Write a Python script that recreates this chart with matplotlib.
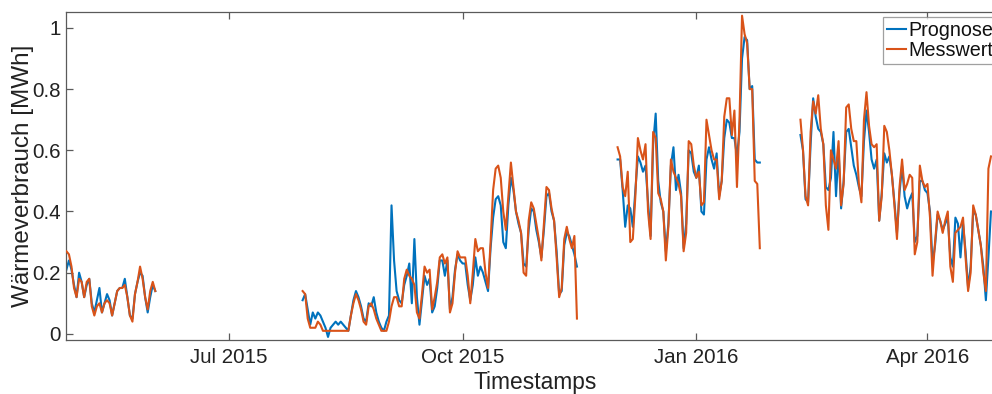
import numpy as np
import pandas as pd
import matplotlib
matplotlib.use("Agg")
import matplotlib.pyplot as plt
import matplotlib.dates as mdates

plt.rcParams['font.family'] = ['Liberation Sans', 'DejaVu Sans']

# ---- data (daily values, MWh) ----
seg1_start = "2015-04-28"
seg1_mess = [0.27, 0.26, 0.22, 0.15, 0.12, 0.18, 0.17, 0.12, 0.17, 0.18, 0.09, 0.06,
             0.09, 0.10, 0.07, 0.10, 0.11, 0.10, 0.06, 0.10, 0.14, 0.15, 0.15, 0.16,
             0.12, 0.06, 0.04, 0.13, 0.17, 0.22, 0.18, 0.12, 0.08, 0.14, 0.17, 0.14]
seg1_prog = [0.21, 0.24, 0.21, 0.16, 0.12, 0.20, 0.17, 0.12, 0.16, 0.18, 0.10, 0.07,
             0.11, 0.15, 0.07, 0.10, 0.13, 0.11, 0.06, 0.10, 0.14, 0.15, 0.15, 0.18,
             0.12, 0.06, 0.05, 0.13, 0.17, 0.20, 0.19, 0.12, 0.07, 0.12, 0.16, 0.14]

seg2_start = "2015-07-30"
seg2_mess = [0.14, 0.13, 0.05, 0.02, 0.02, 0.02, 0.04, 0.03, 0.01, 0.01, 0.01, 0.01,
             0.01, 0.01, 0.01, 0.01, 0.01, 0.01, 0.01, 0.06, 0.10, 0.13, 0.11, 0.08,
             0.04, 0.03, 0.09, 0.10, 0.08, 0.05, 0.03, 0.01, 0.01, 0.01, 0.04, 0.09,
             0.12, 0.12, 0.09, 0.09, 0.18, 0.21, 0.19, 0.18, 0.16, 0.07, 0.05, 0.13,
             0.22, 0.20, 0.21, 0.08, 0.12, 0.17, 0.25, 0.26, 0.23, 0.25, 0.07, 0.10,
             0.20, 0.27, 0.25, 0.25, 0.25, 0.19, 0.10, 0.20, 0.31, 0.27, 0.28, 0.28,
             0.20, 0.15, 0.30, 0.47, 0.54, 0.55, 0.51, 0.40, 0.34, 0.45, 0.56, 0.48,
             0.40, 0.37, 0.33, 0.20, 0.19, 0.37, 0.43, 0.41, 0.36, 0.31, 0.24, 0.36,
             0.48, 0.47, 0.41, 0.37, 0.25, 0.12, 0.15, 0.31, 0.35, 0.31, 0.28, 0.32,
             0.05]
seg2_prog = [0.11, 0.13, 0.08, 0.03, 0.07, 0.05, 0.07, 0.06, 0.04, 0.02, -0.01, 0.02,
             0.03, 0.04, 0.03, 0.04, 0.03, 0.02, 0.01, 0.06, 0.11, 0.14, 0.12, 0.09,
             0.05, 0.04, 0.10, 0.09, 0.12, 0.07, 0.04, 0.02, 0.01, 0.04, 0.06, 0.42,
             0.24, 0.14, 0.11, 0.10, 0.16, 0.19, 0.23, 0.10, 0.31, 0.12, 0.03, 0.11,
             0.19, 0.16, 0.18, 0.07, 0.09, 0.15, 0.24, 0.24, 0.19, 0.24, 0.08, 0.12,
             0.21, 0.26, 0.24, 0.23, 0.23, 0.16, 0.11, 0.16, 0.25, 0.19, 0.22, 0.20,
             0.17, 0.14, 0.28, 0.38, 0.44, 0.45, 0.42, 0.30, 0.28, 0.42, 0.51, 0.47,
             0.40, 0.36, 0.33, 0.23, 0.22, 0.34, 0.41, 0.40, 0.34, 0.30, 0.25, 0.34,
             0.45, 0.46, 0.40, 0.37, 0.27, 0.13, 0.14, 0.29, 0.33, 0.32, 0.29, 0.26,
             0.22]

seg3_start = "2015-12-01"
seg3_mess = [0.61, 0.58, 0.48, 0.45, 0.53, 0.30, 0.31, 0.45, 0.64, 0.60, 0.57, 0.62,
             0.40, 0.31, 0.66, 0.64, 0.46, 0.44, 0.40, 0.24, 0.35, 0.57, 0.53, 0.51,
             0.49, 0.45, 0.27, 0.33, 0.63, 0.62, 0.55, 0.51, 0.53, 0.42, 0.43, 0.70,
             0.65, 0.60, 0.57, 0.57, 0.44, 0.50, 0.71, 0.77, 0.77, 0.65, 0.73, 0.48,
             0.70, 1.04, 0.98, 0.95, 0.80, 0.80, 0.50, 0.49, 0.28]
seg3_prog = [0.57, 0.57, 0.47, 0.35, 0.42, 0.41, 0.35, 0.47, 0.58, 0.56, 0.53, 0.55,
             0.43, 0.32, 0.62, 0.72, 0.50, 0.43, 0.40, 0.27, 0.36, 0.55, 0.61, 0.47,
             0.52, 0.46, 0.28, 0.36, 0.60, 0.59, 0.53, 0.51, 0.55, 0.40, 0.39, 0.57,
             0.61, 0.57, 0.54, 0.59, 0.45, 0.50, 0.64, 0.70, 0.69, 0.64, 0.64, 0.58,
             0.66, 0.90, 0.97, 0.96, 0.80, 0.81, 0.57, 0.56, 0.56]

seg4_start = "2016-02-11"
seg4_mess = [0.70, 0.60, 0.45, 0.42, 0.66, 0.76, 0.72, 0.78, 0.67, 0.62, 0.42, 0.34,
             0.60, 0.57, 0.54, 0.63, 0.42, 0.49, 0.74, 0.75, 0.67, 0.63, 0.63, 0.49,
             0.43, 0.70, 0.79, 0.68, 0.62, 0.61, 0.62, 0.37, 0.45, 0.68, 0.66, 0.60,
             0.52, 0.42, 0.31, 0.48, 0.57, 0.47, 0.49, 0.52, 0.51, 0.26, 0.30, 0.55,
             0.50, 0.48, 0.49, 0.38, 0.19, 0.30, 0.40, 0.37, 0.33, 0.37, 0.40, 0.22,
             0.17, 0.33, 0.34, 0.35, 0.38, 0.25, 0.14, 0.20, 0.42, 0.39, 0.34, 0.29,
             0.20, 0.14, 0.54, 0.58]
seg4_prog = [0.65, 0.60, 0.44, 0.43, 0.62, 0.77, 0.71, 0.67, 0.66, 0.62, 0.48, 0.47,
             0.51, 0.66, 0.45, 0.60, 0.41, 0.50, 0.66, 0.67, 0.61, 0.55, 0.52, 0.48,
             0.45, 0.63, 0.73, 0.66, 0.57, 0.54, 0.57, 0.37, 0.46, 0.59, 0.56, 0.58,
             0.52, 0.43, 0.33, 0.46, 0.55, 0.45, 0.41, 0.44, 0.46, 0.30, 0.32, 0.50,
             0.50, 0.47, 0.46, 0.40, 0.23, 0.29, 0.39, 0.37, 0.34, 0.36, 0.38, 0.25,
             0.22, 0.38, 0.36, 0.25, 0.36, 0.27, 0.15, 0.22, 0.40, 0.39, 0.34, 0.29,
             0.22, 0.11, 0.25, 0.40]

segments = [(seg1_start, seg1_prog, seg1_mess),
            (seg2_start, seg2_prog, seg2_mess),
            (seg3_start, seg3_prog, seg3_mess),
            (seg4_start, seg4_prog, seg4_mess)]

x_start = "2015-04-28"
x_end = "2016-05-01"
y_ticks = [0, 0.2, 0.4, 0.6, 0.8, 1.0]
y_labels = ["0", "0.2", "0.4", "0.6", "0.8", "1"]

# ---- figure ----
W, H = 992, 394
fig = plt.figure(figsize=(W / 100, H / 100), dpi=100)
left_px, top_px, bottom_px = 66.4, 12, 340
ndays = (pd.Timestamp(x_end) - pd.Timestamp(x_start)).days
right_px = left_px + ndays * 2.54
ax = fig.add_axes([left_px / W, 1 - bottom_px / H,
                   (right_px - left_px) / W, (bottom_px - top_px) / H])

c_prog = "#0072BD"
c_mess = "#D95319"

for i, (start, prog, mess) in enumerate(segments):
    d = pd.date_range(start, periods=len(prog), freq="D")
    ax.plot(d, prog, color=c_prog, lw=1.5, label="Prognose" if i == 0 else None, zorder=2)
for i, (start, prog, mess) in enumerate(segments):
    d = pd.date_range(start, periods=len(mess), freq="D")
    ax.plot(d, mess, color=c_mess, lw=1.5, label="Messwert" if i == 0 else None, zorder=3)

ax.set_xlim(pd.Timestamp(x_start), pd.Timestamp(x_end))
ax.set_ylim(-0.02, 1.052)
ax.set_yticks(y_ticks)
ax.set_yticklabels(y_labels)
ax.xaxis.set_major_locator(mdates.MonthLocator(bymonth=[1, 4, 7, 10]))
ax.xaxis.set_major_formatter(mdates.DateFormatter("%b %Y"))

axc = "#5a5a5a"
for s in ax.spines.values():
    s.set_color(axc)
    s.set_linewidth(0.9)
ax.tick_params(direction="in", length=5, width=0.9, color=axc, labelsize=14.8,
               labelcolor="#222222", top=True, right=True, pad=4)
ax.tick_params(axis="x", pad=6)

ax.set_xlabel("Timestamps", fontsize=16.4, color="#222222", labelpad=3)
ax.set_ylabel("Wärmeverbrauch [MWh]", fontsize=17.5, color="#222222", labelpad=-1.5)

leg = ax.legend(loc="upper left", bbox_to_anchor=(883 / W, 1 - 17 / H),
                bbox_transform=fig.transFigure, borderaxespad=0, fontsize=14.2,
                handlelength=0.95, handletextpad=0.15, borderpad=0.2, labelspacing=0.05,
                frameon=True, fancybox=False, edgecolor="#888888")
leg.get_frame().set_linewidth(0.9)
for t in leg.get_texts():
    t.set_color("#111111")

fig.savefig("out.png", dpi=100)
